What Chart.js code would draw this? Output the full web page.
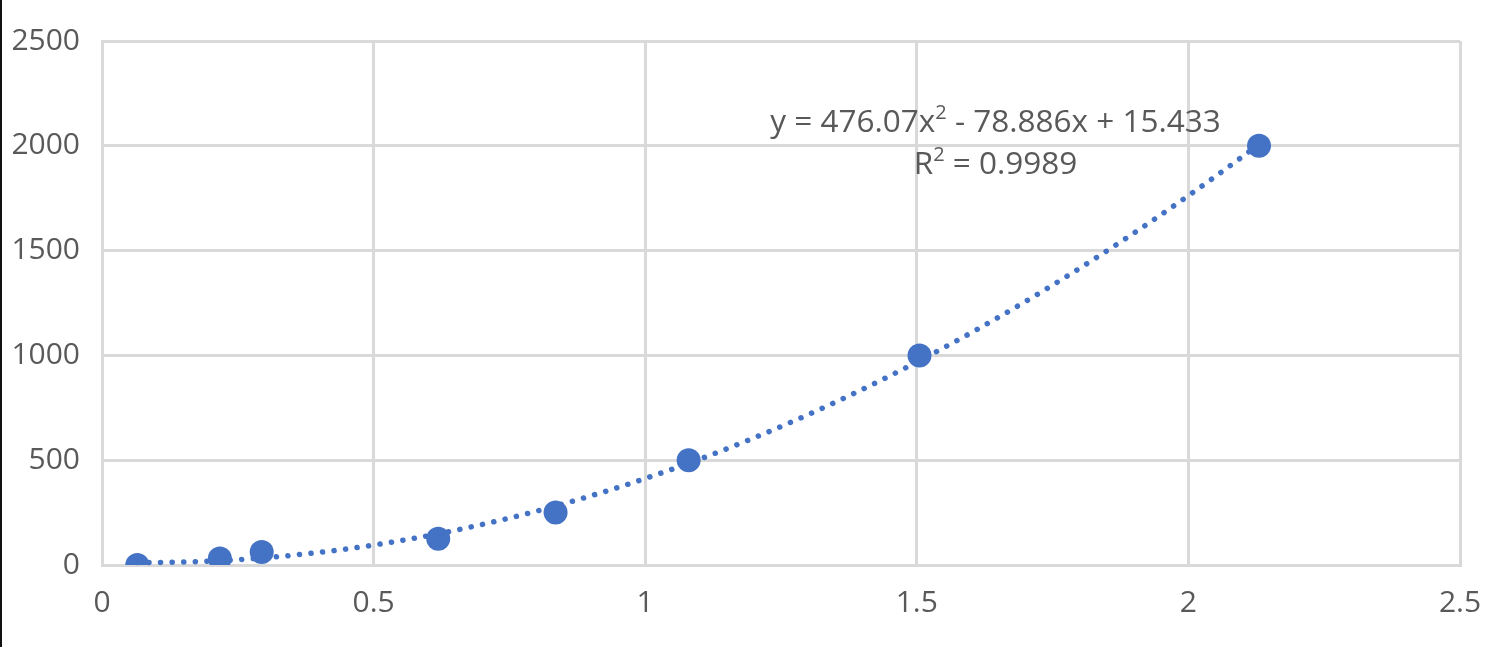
<!DOCTYPE html>
<html>
<head>
<meta charset="utf-8">
<script src="https://cdn.jsdelivr.net/npm/chart.js@4"></script>
<style>
  html, body { margin: 0; padding: 0; background: #fff; }
  body { width: 1493px; height: 647px; overflow: hidden; border-left: 2px solid #111; box-sizing: border-box; }
  .chart-box { position: relative; width: 1491px; height: 647px; }
</style>
</head>
<body>
<div class="chart-box"><canvas id="fit-chart"></canvas></div>
<script>
// Data
const xValues = [0.065, 0.217, 0.294, 0.619, 0.835, 1.080, 1.505, 2.130];
const yValues = [0, 31.25, 62.5, 125, 250, 500, 1000, 2000];
const xTicks = [0, 0.5, 1, 1.5, 2, 2.5];
const yTicks = [0, 500, 1000, 1500, 2000, 2500];
// trendline label: y = 476.07x² - 78.886x + 15.433
const trendCoef = [15.433, -78.886, 476.07];
const trendR2 = "0.9989";

const blue = "#4472C4";
const grey = "#595959";
const fontFamily = "'Open Sans', 'Liberation Sans', sans-serif";

// Trendline + equation label
const trendPlugin = {
  id: "trend",
  beforeDatasetsDraw(chart) {
    const { ctx, scales: { x, y } } = chart;
    const xMin = Math.min(...xValues);
    const xMax = Math.max(...xValues);
    const f = (v) => trendCoef[0] + trendCoef[1] * v + trendCoef[2] * v * v;
    ctx.save();
    ctx.strokeStyle = blue;
    ctx.lineWidth = 5.5;
    ctx.lineCap = "round";
    ctx.setLineDash([0.1, 11.5]);
    ctx.beginPath();
    const steps = 200;
    for (let i = 0; i <= steps; i++) {
      const v = xMin + (xMax - xMin) * i / steps;
      const px = x.getPixelForValue(v);
      const py = y.getPixelForValue(f(v));
      if (i === 0) ctx.moveTo(px, py);
      else ctx.lineTo(px, py);
    }
    ctx.stroke();
    ctx.restore();
  },
  afterDatasetsDraw(chart) {
    const { ctx, scales: { x, y } } = chart;
    const cx = x.getPixelForValue(1.645);
    const big = "31.5px " + fontFamily;
    const small = "20px " + fontFamily;
    const fmt = (n) => Math.abs(n).toString();
    const line1 = [
      ["y = " + fmt(trendCoef[2]) + "x", big, 0],
      ["2", small, -9],
      [" - " + fmt(trendCoef[1]) + "x + " + fmt(trendCoef[0]), big, 0],
    ];
    const line2 = [
      ["R", big, 0],
      ["2", small, -9],
      [" = " + trendR2, big, 0],
    ];
    const drawLine = (parts, cy) => {
      ctx.save();
      ctx.fillStyle = grey;
      ctx.textBaseline = "middle";
      let w = 0;
      parts.forEach(([t, f]) => { ctx.font = f; w += ctx.measureText(t).width; });
      let px = cx - w / 2;
      parts.forEach(([t, f, dy]) => {
        ctx.font = f;
        ctx.fillText(t, px, cy + dy);
        px += ctx.measureText(t).width;
      });
      ctx.restore();
    };
    drawLine(line1, y.getPixelForValue(2111));
    drawLine(line2, y.getPixelForValue(1910));
  },
};

const fitChart = document.querySelector("#fit-chart");
if (fitChart) {
  new Chart(fitChart, {
    type: "scatter",
    data: {
      datasets: [
        {
          data: xValues.map((v, i) => ({ x: v, y: yValues[i] })),
          backgroundColor: blue,
          borderWidth: 0,
          pointRadius: 12,
          pointHoverRadius: 12,
        },
      ],
    },
    options: {
      animation: false,
      responsive: true,
      maintainAspectRatio: false,
      layout: { padding: { top: 41, right: 33, left: 0, bottom: 0 } },
      plugins: {
        legend: { display: false },
        tooltip: { enabled: false },
      },
      scales: {
        x: {
          type: "linear",
          min: 0,
          max: 2.5,
          afterBuildTicks: (axis) => { axis.ticks = xTicks.map((v) => ({ value: v })); },
          afterFit: (axis) => {
            axis.height = 82;
            axis.paddingLeft = 0;
            axis.paddingRight = 0;
          },
          ticks: {
            color: grey,
            font: { family: fontFamily, size: 30 },
            padding: 20,
            callback: (v) => String(v),
          },
          grid: { color: "#d9d9d9", lineWidth: 3, drawTicks: false },
          border: { color: "#d9d9d9", width: 3 },
        },
        y: {
          min: 0,
          max: 2500,
          afterBuildTicks: (axis) => { axis.ticks = yTicks.map((v) => ({ value: v })); },
          afterFit: (axis) => { axis.width = 100; },
          ticks: {
            color: grey,
            font: { family: fontFamily, size: 30 },
            padding: 22,
            callback: (v) => String(v),
          },
          grid: { color: "#d9d9d9", lineWidth: 3, drawTicks: false },
          border: { color: "#d9d9d9", width: 3 },
        },
      },
    },
    plugins: [trendPlugin],
  });
}
</script>
</body>
</html>
